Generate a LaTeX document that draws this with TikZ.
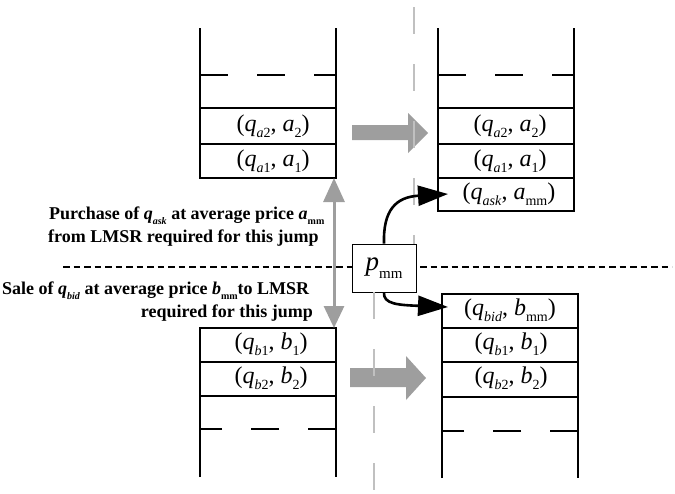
\documentclass[tikz,border=0pt]{standalone}
\usepackage{fontspec}
\setmainfont{Liberation Serif}
\usetikzlibrary{arrows.meta}
\definecolor{fatgray}{RGB}{158,158,158}
\definecolor{axisgray}{RGB}{192,192,192}
\newcommand\sbs[1]{\raisebox{-0.6ex}{\fontsize{14}{14}\selectfont #1}}
\newcommand\sbl[1]{\raisebox{-0.7ex}{\fontsize{10}{10}\selectfont #1}}
\newcommand\sbp[1]{\raisebox{-0.6ex}{\fontsize{15}{15}\selectfont #1}}
\begin{document}
\begin{tikzpicture}[x=1pt,y=-1pt,
  wall/.style={line width=2.8pt},
  sdash/.style={line width=2.8pt,dash pattern=on 28pt off 29pt},
  cell/.style={font=\fontsize{24}{24}\selectfont, inner sep=0pt, anchor=base},
  lbl/.style={font=\fontsize{18}{18}\selectfont\bfseries, inner sep=0pt},
  fat/.style={fill=fatgray, draw=none},
  axisline/.style={draw=axisgray, line width=1.3pt, dash pattern=on 27pt off 30pt},
  grayarrow/.style={draw=fatgray, line width=3pt, {Triangle[length=24pt,width=21pt]}-{Triangle[length=22pt,width=20pt]}},
  blackarrow/.style={draw=black, line width=2.6pt, -{Triangle[length=30pt,width=20pt]}},
  hdash/.style={line width=2.3pt, dash pattern=on 6.5pt off 4pt},
  pbox/.style={draw=black, fill=white, line width=0.9pt, minimum width=64pt, minimum height=48pt, inner sep=0pt}
]
\useasboundingbox (0,0) rectangle (675,493);

% vertical axis lines
\coordinate (axtop) at (414,7);
\coordinate (axbot) at (374,493);
% horizontal dashed divider
\coordinate (hl) at (63,267);
\coordinate (hr) at (672,267);
\draw[hdash] (hl) -- (hr);

% ---------- upper-left stack ----------
\draw[wall] (200,28) -- (200,178) -- (336,178) -- (336,28);
\draw[sdash] (200,75) -- (336,75);
\draw[wall] (200,108) -- (336,108);
\draw[wall] (200,144) -- (336,144);
\node[cell] (ula2) at (273,131) {(\textit{q}\sbs{\textit{a}2}, \textit{a}\sbs{2})};
\node[cell] (ula1) at (273,166) {(\textit{q}\sbs{\textit{a}1}, \textit{a}\sbs{1})};

% ---------- upper-right stack ----------
\draw[wall] (438,28) -- (438,211) -- (574,211) -- (574,28);
\draw[sdash] (438,75) -- (574,75);
\draw[wall] (438,108) -- (574,108);
\draw[wall] (438,144) -- (574,144);
\draw[wall] (438,178) -- (574,178);
\node[cell] (ura2) at (510,131) {(\textit{q}\sbs{\textit{a}2}, \textit{a}\sbs{2})};
\node[cell] (ura1) at (510,166) {(\textit{q}\sbs{\textit{a}1}, \textit{a}\sbs{1})};
\node[cell] (urask) at (509,199) {(\textit{q}\sbs{\textit{ask}}, \textit{a}\sbs{mm})};

% ---------- lower-left stack ----------
\draw[wall] (200,477) -- (200,328) -- (336,328) -- (336,477);
\draw[sdash] (336,429) -- (200,429);
\draw[wall] (200,362) -- (336,362);
\draw[wall] (200,396) -- (336,396);
\node[cell] (llb1) at (271,349) {(\textit{q}\sbs{\textit{b}1}, \textit{b}\sbs{1})};
\node[cell] (llb2) at (271,383) {(\textit{q}\sbs{\textit{b}2}, \textit{b}\sbs{2})};

% ---------- lower-right stack ----------
\draw[wall] (442,478) -- (442,294) -- (578,294) -- (578,478);
\draw[sdash] (578,431) -- (442,431);
\draw[wall] (442,328) -- (578,328);
\draw[wall] (442,362) -- (578,362);
\draw[wall] (442,397) -- (578,397);
\node[cell] (lrbid) at (510,315) {(\textit{q}\sbs{\textit{bid}}, \textit{b}\sbs{mm})};
\node[cell] (lrb1) at (511,349) {(\textit{q}\sbs{\textit{b}1}, \textit{b}\sbs{1})};
\node[cell] (lrb2) at (511,383) {(\textit{q}\sbs{\textit{b}2}, \textit{b}\sbs{2})};

% ---------- fat gray transition arrows ----------
\path[fat] (352,125) -- (408,125) -- (408,113) -- (428,133) -- (408,153) -- (408,140) -- (352,140) -- cycle;
\path[fat] (350,368) -- (406,368) -- (406,356) -- (426,378) -- (406,400) -- (406,387) -- (350,387) -- cycle;

% p_mm box and axis
\node[pbox] (pmm) at (384,268) {\fontsize{27}{27}\selectfont\textit{p}\sbp{mm}};
\draw[axisline] (axtop) -- (axtop |- pmm.north);
\draw[axisline] (pmm.south -| axbot) -- (axbot);

% vertical gray double arrow
\coordinate (ulBR) at (334,178);
\coordinate (llTR) at (334,328);
\draw[grayarrow] (ulBR) -- (llTR);

% black curved arrows
\coordinate (asktip) at (448,194);
\coordinate (bidtip) at (448,307);
\draw[blackarrow] (pmm.north) .. controls (383,210) and (396,197) .. (asktip);
\draw[blackarrow] (pmm.south) .. controls (383,304) and (398,305) .. (bidtip);

% ---------- labels ----------
\node[lbl, anchor=base west] (pur1) at (49,219) {Purchase of \textit{q}\sbl{\textit{ask}} at average price \textit{a}\sbl{mm}};
\node[lbl, anchor=base west] (pur2) at (48,242) {from LMSR required for this jump};
\node[lbl, anchor=base west] (sal1) at (2,294) {Sale of \textit{q}\sbl{\textit{bid}} at average price \textit{b}\sbl{mm}to LMSR};
\node[lbl, anchor=base east] (sal2) at (313,317) {required for this jump};
\end{tikzpicture}
\end{document}
